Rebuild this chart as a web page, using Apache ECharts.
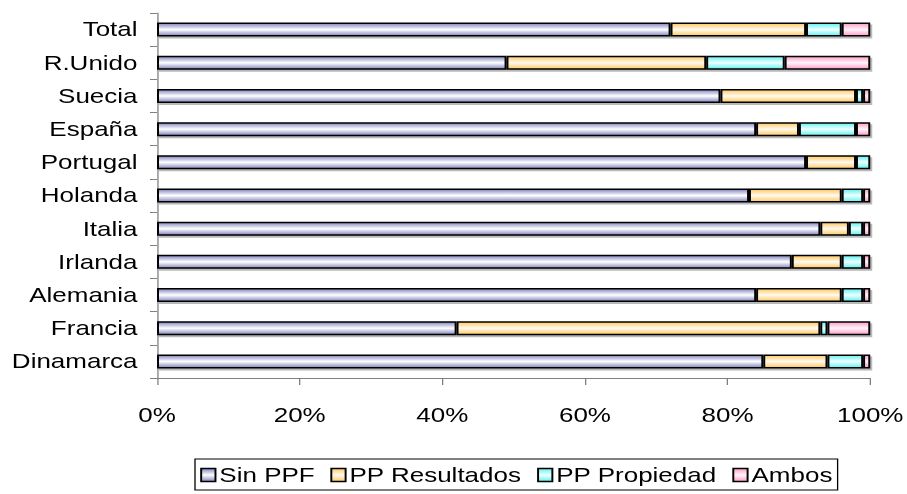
<!DOCTYPE html>
<html>
<head>
<meta charset="utf-8">
<script src="https://cdn.jsdelivr.net/npm/echarts@6/dist/echarts.min.js"></script>
<style>
  html, body { margin: 0; padding: 0; background: #ffffff; overflow: hidden; }
  /* The chart is laid out narrow and widened horizontally, giving the wide lettering of the figure */
  #chart { width: 698px; height: 494px; transform: scaleX(1.3); transform-origin: 0 0; }
</style>
</head>
<body>
<div id="chart"></div>
<script>
// Countries, bottom to top
var categories = ['Dinamarca', 'Francia', 'Alemania', 'Irlanda', 'Italia', 'Holanda',
                  'Portugal', 'España', 'Suecia', 'R.Unido', 'Total'];

// Share of firms (%) in each group
var sinPPF       = [85, 42, 84, 89, 93, 83, 91, 84, 79, 49, 72];
var ppResultados = [ 9, 51, 12,  7,  4, 13,  7,  6, 19, 28, 19];
var ppPropiedad  = [ 5,  1,  3,  3,  2,  3,  2,  8,  1, 11,  5];
var ambos        = [ 1,  6,  1,  1,  1,  1,  0,  2,  1, 12,  4];

var seriesNames = ['Sin PPF', 'PP Resultados', 'PP Propiedad', 'Ambos'];
var seriesData = [sinPPF, ppResultados, ppPropiedad, ambos];

// Edge and centre tones of each bar's shaded fill
var edgeColors   = ['#8484c0', '#ffc860', '#5ef2f2', '#ff9cc8'];
var centreColors = ['#ffffff', '#fffaf0', '#f0ffff', '#fff4fa'];

var xTicks = { min: 0, max: 100, interval: 20 };

var FONT = '"Liberation Sans", Arial, sans-serif';

function shadedFill(i) {
  return new echarts.graphic.LinearGradient(0, 0, 0, 1, [
    { offset: 0, color: edgeColors[i] },
    { offset: 0.5, color: centreColors[i] },
    { offset: 1, color: edgeColors[i] }
  ]);
}

var chart = echarts.init(document.getElementById('chart'), null, { renderer: 'svg' });

chart.setOption({
  backgroundColor: '#ffffff',
  animation: false,
  textStyle: { fontFamily: FONT },
  grid: { left: 120.8, right: 27.7, top: 13, bottom: 116, containLabel: false },
  legend: {
    data: seriesNames,
    top: 459,
    left: 150,
    padding: [6, 4, 5, 4],
    itemGap: 12,
    itemWidth: 11,
    itemHeight: 13,
    icon: 'rect',
    borderColor: '#000000',
    borderWidth: 1,
    textStyle: { fontFamily: FONT, fontSize: 20, color: '#000000', padding: [0, 0, 0, -2] },
    itemStyle: { borderColor: '#000000', borderWidth: 1.5 }
  },
  xAxis: {
    type: 'value',
    min: xTicks.min,
    max: xTicks.max,
    interval: xTicks.interval,
    axisLine: { show: true, lineStyle: { color: '#808080', width: 1 } },
    axisTick: { show: true, inside: false, length: 7, lineStyle: { color: '#808080' } },
    splitLine: { show: false },
    axisLabel: {
      formatter: '{value}%',
      fontFamily: FONT,
      fontSize: 20,
      color: '#000000',
      margin: 27
    }
  },
  yAxis: {
    type: 'category',
    data: categories,
    axisLine: { show: true, lineStyle: { color: '#808080', width: 1 } },
    axisTick: { show: true, inside: false, length: 5.4, alignWithLabel: false, lineStyle: { color: '#808080' } },
    axisLabel: { fontFamily: FONT, fontSize: 20, color: '#000000', margin: 15 }
  },
  series: seriesData.map(function (values, i) {
    return {
      name: seriesNames[i],
      type: 'bar',
      stack: 'share',
      barWidth: 14,
      data: values,
      itemStyle: {
        color: shadedFill(i),
        borderColor: '#000000',
        borderWidth: 1.5,
        shadowColor: 'rgba(0,0,0,0.28)',
        shadowOffsetX: 1.5,
        shadowOffsetY: 2,
        shadowBlur: 0
      },
      emphasis: { disabled: true }
    };
  })
});
</script>
</body>
</html>
